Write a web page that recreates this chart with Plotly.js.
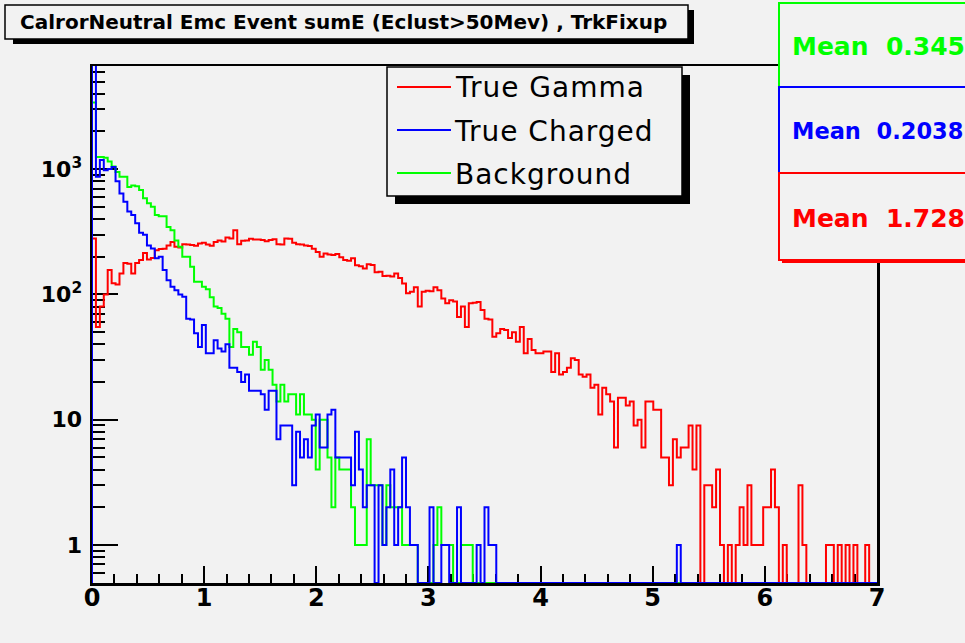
<!DOCTYPE html>
<html><head><meta charset="utf-8">
<script src="https://cdn.plot.ly/plotly-3.0.1.min.js"></script>
<style>
html,body{margin:0;padding:0;background:#f2f2f2;overflow:hidden;}
#chart g.annotation[data-index="1"] text,
#chart g.annotation[data-index="2"] text,
#chart g.annotation[data-index="3"] text{letter-spacing:1px;}
</style>
</head><body><div id="chart" style="width:965px;height:643px;"></div>
<script>
// ---- histogram definition ----
const xMin = 0, xMax = 7, nBins = 200;

// ---- bin contents ----
const trueGamma = [
280,55,80,100,157,123,120,147,178,176,
147,178,188,214,190,195,225,230,232,246,
262,240,237,252,250,248,245,255,258,250,
245,262,270,265,285,280,325,252,268,270,
278,275,275,272,266,272,276,251,250,280,
278,258,251,250,246,244,232,218,200,212,
208,206,210,198,188,186,194,171,168,161,
174,172,150,152,140,141,139,147,135,122,
102,105,114,80,105,107,106,114,108,93,
85,90,88,66,80,55,85,86,87,75,
64,63,46,49,53,52,45,50,42,55,
34,44,36,34,34,35,35,24,34,23,
24,26,31,30,23,22,23,18,19,11,
18,16,14,6,15,15,13,14,9,10,
6,14,14,12,12,5,5,3,7,5,
6,6,9,4,9,0,3,3,2,4,
1,0,1,0,1,2,1,3,1,1,
1,2,2,4,2,0,1,0,0,0,
3,1,0,0,0,0,0,1,1,0,
1,0,1,0,1,0,0,1,0,0];

const trueCharged = [
9200,870,1180,980,1000,1040,800,640,550,460,
430,370,310,300,246,233,194,200,157,130,
115,108,100,96,64,63,49,38,57,34,
34,43,37,35,40,26,26,24,20,23,
17,17,17,16,12,17,17,7,9,9,
9,3,8,5,7,5,9,11,6,6,
11,12,5,5,5,5,3,8,4,2,
3,3,0,3,1,2,4,1,2,5,
2,1,1,0,0,0,2,0,0,1,
1,0,0,2,0,0,0,0,1,0,
2,1,1,0,0,0,0,0,0,0,
0,0,0,0,0,0,0,0,0,0,
0,0,0,0,0,0,0,0,0,0,
0,0,0,0,0,0,0,0,0,0,
0,0,0,0,0,0,0,0,0,1,
0,0,0,0,0,0,0,0,0,0,
0,0,0,0,0,0,0,0,0,0,
0,0,0,0,0,0,0,0,0,0,
0,0,0,0,0,0,0,0,0,0,
0,0,0,0,0,0,0,0,0,0];

const background = [
3400,1250,1250,1230,1150,1050,950,870,870,720,
740,730,680,585,533,500,430,420,420,345,
325,270,240,200,200,166,126,126,115,110,
95,80,78,70,64,38,53,50,38,38,
33,42,38,25,30,25,19,14,19,14,
16,16,11,16,11,11,10,4,10,10,
5,2,5,4,4,4,2,1,1,1,
7,3,3,3,1,3,2,2,2,1,
1,1,1,0,0,0,0,1,2,1,
1,1,0,0,1,1,1,0,0,0,
0,0,0,0,0,0,0,0,0,0,
0,0,0,0,0,0,0,0,0,0,
0,0,0,0,0,0,0,0,0,0,
0,0,0,0,0,0,0,0,0,0,
0,0,0,0,0,0,0,0,0,0,
0,0,0,0,0,0,0,0,0,0,
0,0,0,0,0,0,0,0,0,0,
0,0,0,0,0,0,0,0,0,0,
0,0,0,0,0,0,0,0,0,0,
0,0,0,0,0,0,0,0,0,0];

const seriesNames = ['True Gamma', 'True Charged', 'Background'];
const seriesMeans = ['1.728', '0.2038', '0.345'];
const chartTitle = 'CalrorNeutral Emc Event sumE (Eclust>50Mev) , TrkFixup';
const xTickVals = [0, 1, 2, 3, 4, 5, 6, 7];
const xTickText = ['0', '1', '2', '3', '4', '5', '6', '7'];
const yTickVals = [1, 10, 100, 1000];
const yTickText = ['1', '10', '10<sup>2</sup>', '10<sup>3</sup>'];

// ---- styling / geometry ----
const RED = '#ff0000', BLUE = '#0000ff', GREEN = '#00ff00';
const BG = '#f2f2f2';
const W = 965, H = 643;
const PL = 92, PR = 877, PT = 66, PB = 583;
const yLogRange = [-0.303, 3.823];
const floorVal = Math.pow(10, yLogRange[0]);
const FONT = 'DejaVu Sans';

function stepTrace(vals, color, name) {
  const binW = (xMax - xMin) / nBins;
  const xs = [xMin], ys = [floorVal];
  for (let i = 0; i < vals.length; i++) {
    xs.push(xMin + i * binW);
    ys.push(vals[i] > 0 ? vals[i] : floorVal);
  }
  xs.push(xMax); ys.push(ys[ys.length - 1]);
  xs.push(xMax); ys.push(floorVal);
  return {x: xs, y: ys, type: 'scatter', mode: 'lines', name: name,
    line: {shape: 'hv', color: color, width: 2}, hoverinfo: 'skip', showlegend: false};
}

const px = x => (x - PL) / (PR - PL);
const py = y => (PB - y) / (PB - PT);
function rect(x0, y0, x1, y1, fill, lineColor, lw) {
  return {type: 'rect', xref: 'paper', yref: 'paper', layer: 'above',
    x0: px(x0), x1: px(x1), y0: py(y0), y1: py(y1),
    fillcolor: fill, line: {color: lineColor || fill, width: lineColor ? lw : 0}};
}
function seg(x0, y0, x1, y1, color, lw) {
  return {type: 'line', xref: 'paper', yref: 'paper', layer: 'above',
    x0: px(x0), x1: px(x1), y0: py(y0), y1: py(y1), line: {color: color, width: lw}};
}
function label(text, x, y, size, color, bold, anchor) {
  return {text: text, xref: 'paper', yref: 'paper', x: px(x), y: py(y),
    xanchor: anchor || 'left', yanchor: 'middle', showarrow: false,
    font: {family: FONT, size: size, color: color, weight: bold ? 'bold' : 'normal'}};
}

const traces = [
  stepTrace(trueGamma, RED, seriesNames[0]),
  stepTrace(background, GREEN, seriesNames[2]),
  stepTrace(trueCharged, BLUE, seriesNames[1])
];

const yMinor = [];
for (let d = -1; d <= 3; d++) for (let k = 2; k <= 9; k++) {
  const v = k * Math.pow(10, d);
  if (Math.log10(v) > yLogRange[0] && Math.log10(v) < yLogRange[1]) yMinor.push(v);
}

const shapes = [
  // title box
  rect(13, 10, 694, 44, '#000'),
  rect(5, 5, 688, 39, BG, '#000', 1.5),
  // legend box
  rect(395, 75, 690, 204, '#000'),
  rect(387, 67, 682, 196, BG, '#000', 1.5),
  seg(397, 87, 451, 87, RED, 2),
  seg(397, 130, 451, 130, BLUE, 2),
  seg(397, 173, 451, 173, GREEN, 2),
  // stat boxes
  rect(779, 3, 980, 87, BG, GREEN, 2),
  rect(782, 90, 980, 176, BLUE),
  rect(779, 87, 980, 173, BG, BLUE, 2),
  rect(782, 176, 980, 263, RED),
  rect(779, 173, 980, 260, BG, RED, 2)
];

const annotations = [
  label(chartTitle, 18, 22, 20, '#000', true),
  label(seriesNames[0], 458, 88, 28, '#000', false),
  label(seriesNames[1], 458, 131, 28, '#000', false),
  label(seriesNames[2], 458, 174, 28, '#000', false),
  label('Mean\u00a0\u00a0' + seriesMeans[2], 790, 46, 25, GREEN, true),
  label('Mean\u00a0\u00a0' + seriesMeans[1], 790, 131, 22.5, BLUE, true),
  label('Mean\u00a0\u00a0' + seriesMeans[0], 790, 218, 25, RED, true)
];

const layout = {
  width: W, height: H,
  margin: {l: PL, r: W - PR, t: PT, b: H - PB, pad: 0},
  paper_bgcolor: BG, plot_bgcolor: BG,
  showlegend: false,
  xaxis: {
    range: [xMin, xMax], tickmode: 'array', tickvals: xTickVals, ticktext: xTickText,
    ticks: 'inside', ticklen: 17, tickwidth: 2, tickcolor: '#000', ticklabelstandoff: -8,
    minor: {dtick: 0.2, tick0: 0, ticks: 'inside', ticklen: 9, tickwidth: 2, tickcolor: '#000', showgrid: false},
    showline: true, linecolor: '#000', linewidth: 2.5, mirror: true,
    showgrid: false, zeroline: false, layer: 'below traces',
    tickfont: {family: FONT, size: 24, color: '#000', weight: 'bold'}
  },
  yaxis: {
    type: 'log', range: yLogRange, tickmode: 'array', tickvals: yTickVals, ticktext: yTickText,
    ticks: 'inside', ticklen: 26, tickwidth: 2, tickcolor: '#000', ticklabelstandoff: 3,
    minor: {tickmode: 'array', tickvals: yMinor, ticks: 'inside', ticklen: 13, tickwidth: 2, tickcolor: '#000', showgrid: false},
    showline: true, linecolor: '#000', linewidth: 2.5, mirror: true,
    showgrid: false, zeroline: false, layer: 'below traces',
    tickfont: {family: FONT, size: 22, color: '#000', weight: 'bold'}
  },
  shapes: shapes,
  annotations: annotations
};

Plotly.newPlot('chart', traces, layout, {displayModeBar: false, staticPlot: true});
</script>
</body></html>
